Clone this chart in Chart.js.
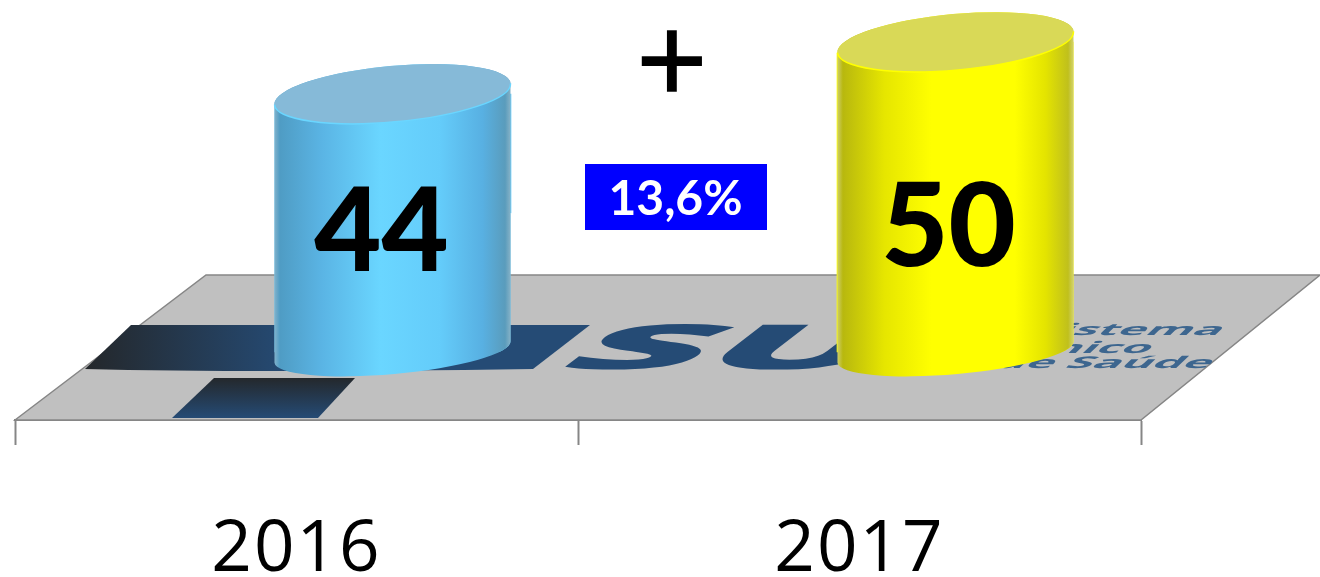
<!DOCTYPE html>
<html><head><meta charset="utf-8">
<style>html,body{margin:0;padding:0;background:#fff;overflow:hidden}#wrap{width:1320px;height:577px;position:relative}</style>
<script src="https://cdn.jsdelivr.net/npm/chart.js@4"></script>
</head><body><div id="wrap"><canvas id="c" width="1320" height="577"></canvas></div>
<script>
const categories = ['2016', '2017'];
const values = [44, 50];
const growthLabel = '13,6%';
const growthSign = '+';
const logoLetters = 'SUS';
const logoLines = ['Sistema', 'Único', 'de Saúde'];

const BASE_VALUE = 14.2, Y_MIN = 6.35, Y_MAX = 54.85;
const DEPTH_SHIFT = 96, CYL_RY = 28, CYL_RY_BOTTOM = 22, CYL_TILT = -0.09;
const bodyStops = [
  [[0,'#86b4cc'],[0.025,'#4f9cc4'],[0.2,'#5ab4e4'],[0.45,'#6ad6ff'],[0.7,'#64ccfa'],[0.88,'#58b0e2'],[0.975,'#5a9cbc'],[1,'#8ab4c8']],
  [[0,'#cfcf70'],[0.025,'#b8b80e'],[0.2,'#e6e600'],[0.4,'#ffff00'],[0.75,'#ffff00'],[0.88,'#e4e400'],[0.975,'#c0c01c'],[1,'#d4d478']]
];
const capColors = ['#86bad8', '#d9d957'];
const capRims = ['#6ad6ff', '#ffff00'];
const valueLabelNudge = [[-11, 6], [-7, 1]];

function addSilhouette(ctx, el) {
  const cx = el.x, rx = el.width / 2;
  ctx.ellipse(cx, el.y, rx, CYL_RY, CYL_TILT, Math.PI, 2 * Math.PI);
  ctx.ellipse(cx, el.base, rx, CYL_RY_BOTTOM, CYL_TILT, 0, Math.PI);
  ctx.closePath();
}
function bodyGradient(ctx, el, i) {
  const g = ctx.createLinearGradient(el.x - el.width / 2, 0, el.x + el.width / 2, 0);
  bodyStops[i].forEach(s => g.addColorStop(s[0], s[1]));
  return g;
}

const floorPlugin = {
  id: 'floor',
  beforeDraw(chart) {
    chart.ctx.letterSpacing = '2px';
  },
  beforeDatasetsDraw(chart) {
    const ctx = chart.ctx, a = chart.chartArea, floorTop = 275;
    ctx.letterSpacing = '0px';
    ctx.save();
    ctx.beginPath();
    ctx.moveTo(a.left, a.bottom);
    ctx.lineTo(206, floorTop);
    ctx.lineTo(1320, floorTop);
    ctx.lineTo(a.right, a.bottom);
    ctx.closePath();
    ctx.fillStyle = '#c0c0c0';
    ctx.fill();
    ctx.strokeStyle = '#868686';
    ctx.lineWidth = 1.5;
    ctx.stroke();

    // logo painted on the floor
    ctx.filter = 'blur(0.7px)';
    const g1 = ctx.createLinearGradient(90, 0, 290, 0);
    g1.addColorStop(0, '#24282c'); g1.addColorStop(1, '#254b75');
    ctx.fillStyle = g1;
    ctx.beginPath();
    ctx.moveTo(85, 369); ctx.lineTo(131, 325); ctx.lineTo(590, 325); ctx.lineTo(533, 369);
    ctx.quadraticCurveTo(250, 373, 85, 369);
    ctx.fill();
    const g2 = ctx.createLinearGradient(0, 378, 0, 418);
    g2.addColorStop(0, '#24282c'); g2.addColorStop(1, '#254b75');
    ctx.fillStyle = g2;
    ctx.beginPath();
    ctx.moveTo(172, 418); ctx.lineTo(214, 378); ctx.lineTo(355, 378); ctx.lineTo(318, 418);
    ctx.closePath();
    ctx.fill();

    ctx.fillStyle = '#254b75';
    ctx.textBaseline = 'alphabetic';
    ctx.textAlign = 'left';
    ctx.save();
    ctx.transform(3.8, 0, -1.3, 1, 552, 369);
    ctx.font = '800 62px "Open Sans"';
    ctx.fillText(logoLetters, 0, 0);
    ctx.restore();

    ctx.fillStyle = '#3d668f';
    const rows = [[1030, 335], [1012, 353], [993, 368]];
    logoLines.forEach((t, i) => {
      ctx.save();
      ctx.transform(2.8, 0, -1.0, 0.95, rows[i][0], rows[i][1]);
      ctx.font = 'bold 17px "Open Sans"';
      ctx.fillText(t, 0, 0);
      ctx.restore();
    });
    ctx.restore();
  },
  beforeDatasetDraw(chart, args) {
    const ctx = chart.ctx;
    ctx.save();
    ctx.translate(DEPTH_SHIFT, 0);
    ctx.beginPath();
    args.meta.data.forEach(el => addSilhouette(ctx, el));
    ctx.clip();
  },
  afterDatasetDraw(chart, args) {
    const ctx = chart.ctx;
    ctx.restore();
    ctx.save();
    ctx.translate(DEPTH_SHIFT, 0);
    args.meta.data.forEach((el, i) => {
      ctx.beginPath();
      addSilhouette(ctx, el);
      ctx.fillStyle = bodyGradient(ctx, el, i);
      ctx.fill();
      ctx.beginPath();
      ctx.ellipse(el.x, el.y, el.width / 2, CYL_RY, CYL_TILT, 0, 2 * Math.PI);
      ctx.fillStyle = capColors[i];
      ctx.fill();
      ctx.strokeStyle = capRims[i];
      ctx.lineWidth = 1.5;
      ctx.beginPath();
      ctx.ellipse(el.x, el.y, el.width / 2, CYL_RY, CYL_TILT, 0, Math.PI);
      ctx.stroke();
    });
    ctx.restore();
  },
  afterDraw(chart) {
    const ctx = chart.ctx;
    const meta = chart.getDatasetMeta(0);
    ctx.save();
    ctx.textAlign = 'center';
    ctx.textBaseline = 'middle';
    ctx.fillStyle = '#000';
    ctx.font = '900 116px Lato';
    meta.data.forEach((el, i) => {
      ctx.fillText(String(values[i]), el.x + DEPTH_SHIFT + valueLabelNudge[i][0], 228 + valueLabelNudge[i][1]);
    });
    ctx.fillStyle = '#0000ff';
    ctx.fillRect(585, 164, 182, 66);
    ctx.fillStyle = '#fff';
    ctx.font = 'bold 48px Lato';
    ctx.fillText(growthLabel, 675.5, 200);
    ctx.fillStyle = '#000';
    ctx.font = '400 125px "Open Sans"';
    ctx.fillText(growthSign, 672, 69);
    ctx.lineWidth = 1.5;
    ctx.strokeStyle = '#000';
    ctx.strokeText(growthSign, 672, 69);
    ctx.restore();
  }
};

new Chart(document.getElementById('c'), {
  type: 'bar',
  data: {
    labels: categories,
    datasets: [{
      data: values,
      base: BASE_VALUE,
      barThickness: 237,
      borderWidth: 0,
      backgroundColor: c => bodyStops[c.dataIndex % 2][4][1]
    }]
  },
  plugins: [floorPlugin],
  options: {
    responsive: false,
    animation: false,
    layout: { padding: { left: 15, right: 179, top: 0, bottom: 0 } },
    plugins: { legend: { display: false }, tooltip: { enabled: false } },
    scales: {
      x: {
        afterFit(s) { s.height = 157; },
        border: { display: true, color: '#868686', width: 2 },
        grid: { display: true, offset: true, drawOnChartArea: false, drawTicks: true, tickLength: 25, tickColor: '#868686', tickWidth: 2 },
        ticks: { color: '#000', padding: 63, maxRotation: 0, font: { family: '"Open Sans"', size: 71 } }
      },
      y: { display: false, min: Y_MIN, max: Y_MAX }
    }
  }
});
</script></body></html>
